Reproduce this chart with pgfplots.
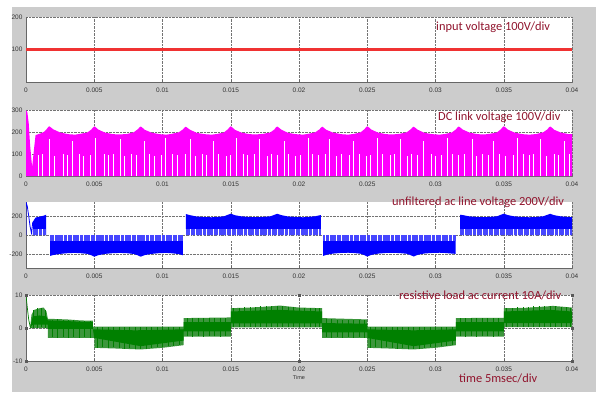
\documentclass[border=0pt]{standalone}
\usepackage{pgfplots}
\pgfplotsset{compat=1.18}
\usepackage{pgfplotstable}
\usepackage{fontspec}
\setmainfont{Liberation Sans}
\newfontfamily\calibri{Carlito}
\definecolor{bg}{RGB}{204,204,204}
\definecolor{lab}{RGB}{145,20,45}
\definecolor{mag}{RGB}{255,0,255}
\definecolor{bl}{RGB}{0,0,255}
\definecolor{bll}{RGB}{70,70,255}
\definecolor{gr}{RGB}{0,128,0}
\definecolor{grl}{RGB}{60,150,60}
\definecolor{redl}{RGB}{240,50,50}
\newcommand\tickf{\fontsize{6.5}{7}\selectfont}
\newcommand\labf{\calibri\fontsize{12.4}{14}\selectfont\color{lab}}

\pgfplotstableread{
x m b d
0.0009 95 -60 120
0.0012 100 -60 120
0.0017 170 -60 120
0.0021 90 -60 120
0.0027 100 -60 120
0.0030 95 -60 120
0.0034 160 -60 120
0.0039 100 -60 120
0.0042 90 -60 120
0.0047 95 -60 120
0.0051 175 -60 120
0.0057 100 -60 120
0.0060 95 -60 120
0.0064 100 -60 120
0.0069 170 -60 120
0.0072 90 -60 120
0.0077 100 -60 120
0.0081 95 -60 120
0.0087 160 -60 120
0.0090 100 -60 120
0.0094 90 -60 120
0.0099 95 -60 120
0.0102 175 -60 120
0.0107 100 -60 120
0.0111 95 -60 120
0.0117 100 -60 120
0.0120 170 -60 120
0.0124 90 -60 120
0.0129 100 -60 120
0.0132 95 -60 120
0.0137 160 -60 120
0.0141 100 -60 120
0.0147 90 -60 120
0.0150 95 -60 120
0.0154 175 -60 120
0.0159 100 -60 120
0.0162 95 -60 120
0.0167 100 -60 120
0.0171 170 -60 120
0.0177 90 -60 120
0.0180 100 -60 120
0.0184 95 -60 120
0.0189 160 -60 120
0.0192 100 -60 120
0.0197 90 -60 120
0.0201 95 -60 120
0.0207 175 -60 120
0.0210 100 -60 120
0.0214 95 -60 120
0.0219 100 -60 120
0.0222 170 -60 120
0.0227 90 -60 120
0.0231 100 -60 120
0.0237 95 -60 120
0.0240 160 -60 120
0.0244 100 -60 120
0.0249 90 -60 120
0.0252 95 -60 120
0.0257 175 -60 120
0.0261 100 -60 120
0.0267 95 -60 120
0.0270 100 -60 120
0.0274 170 -60 120
0.0279 90 -60 120
0.0282 100 -60 120
0.0287 95 -60 120
0.0291 160 -60 120
0.0297 100 -60 120
0.0300 90 -60 120
0.0304 95 -60 120
0.0309 175 -60 120
0.0312 100 -60 120
0.0317 95 -60 120
0.0321 100 -60 120
0.0327 170 -60 120
0.0330 90 -60 120
0.0334 100 -60 120
0.0339 95 -60 120
0.0342 160 -60 120
0.0347 100 -60 120
0.0351 90 -60 120
0.0357 95 -60 120
0.0360 175 -60 120
0.0364 100 -60 120
0.0369 95 -60 120
0.0372 100 -60 120
0.0377 170 -60 120
0.0381 90 -60 120
0.0387 100 -60 120
0.0390 95 -60 120
0.0394 160 -60 120
0.0398 100 -60 120
}\wpulses

\pgfplotstableread{
x lo d
0.0005 0 5.5
0.0008 0 6
0.0011 0.3 5.8
0.0014 0 5.5
0.0019 -2.8 5.2
0.0023 -3 5.6
0.0027 -2.6 5
0.0031 -3 5.4
0.0035 -2.7 5
0.0039 -2.9 5.1
0.0043 -2.8 5
0.0047 -3 5.1
0.0052 -6 6.3
0.0056 -5.8 6.1
0.0060 -6.1 6.4
0.0064 -5.9 6.2
0.0068 -6.2 6.5
0.0072 -6.3 6.6
0.0076 -6.1 6.4
0.0080 -6.5 6.8
0.0084 -6.4 6.7
0.0088 -6.3 6.6
0.0092 -6 6.3
0.0096 -5.9 6.2
0.0100 -5.8 6.1
0.0104 -5.6 5.9
0.0108 -5.4 5.7
0.0112 -5.2 5.5
0.0118 -2.5 5.4
0.0122 -2.6 5.6
0.0126 -2.4 5.3
0.0130 -2.6 5.5
0.0134 -2.3 5.2
0.0138 -2.5 5.4
0.0142 -2.6 5.6
0.0146 -2.4 5.4
0.0152 0.2 5.8
0.0156 0.3 5.9
0.0160 0.2 6.1
0.0164 0.4 6
0.0168 0.2 6.3
0.0172 0.3 6.3
0.0176 0.2 6.5
0.0180 0.3 6.4
0.0184 0.2 6.6
0.0188 0.4 6.3
0.0192 0.2 6.3
0.0196 0.3 6.1
0.0200 0.2 6
0.0204 0.3 5.9
0.0208 0.2 5.9
0.0212 0.4 5.6
0.0215 0.2 5.8
0.0220 -2.8 5.4
0.0224 -3 5.6
0.0228 -2.7 5.2
0.0232 -3 5.5
0.0236 -2.8 5.2
0.0240 -3 5.5
0.0244 -2.7 5.1
0.0248 -2.9 5.2
0.0252 -6 6.3
0.0256 -5.8 6.1
0.0260 -6.1 6.4
0.0264 -5.9 6.2
0.0268 -6.2 6.5
0.0272 -6.3 6.6
0.0276 -6.1 6.4
0.0280 -6.5 6.8
0.0284 -6.4 6.7
0.0288 -6.3 6.6
0.0292 -6 6.3
0.0296 -5.9 6.2
0.0300 -5.8 6.1
0.0304 -5.6 5.9
0.0308 -5.4 5.7
0.0312 -5.2 5.5
0.0318 -2.5 5.4
0.0322 -2.6 5.6
0.0326 -2.4 5.3
0.0330 -2.6 5.5
0.0334 -2.3 5.2
0.0338 -2.5 5.4
0.0342 -2.6 5.6
0.0346 -2.4 5.4
0.0352 0.2 5.8
0.0356 0.3 5.9
0.0360 0.2 6.1
0.0364 0.4 6
0.0368 0.2 6.3
0.0372 0.3 6.3
0.0376 0.2 6.5
0.0380 0.3 6.4
0.0384 0.2 6.6
0.0388 0.4 6.3
0.0392 0.2 6.3
0.0396 0.3 6.1
0.0399 0.2 6
}\gpulses

\pgfplotsset{
  panel/.style={
    scale only axis, width=546pt, xmin=0, xmax=0.04,
    anchor=south west,
    axis x line*=bottom, axis y line*=left,
    axis line style={-, draw=black!60, line width=0.6pt},
    axis background/.style={fill=white},
    scaled x ticks=false, scaled y ticks=false,
    xtick={0,0.005,0.01,0.015,0.02,0.025,0.03,0.035,0.04},
    xticklabels={0,0.005,0.01,0.015,0.02,0.025,0.03,0.035,0.04},
    grid=major,
    major grid style={densely dotted, black!55, line width=0.5pt},
    tick align=inside, major tick length=2pt,
    tick style={black!60, line width=0.5pt},
    ticklabel style={font=\tickf, text=black!80},
    xticklabel style={yshift=-2pt},
  }
}

\begin{document}
\begin{tikzpicture}
\useasboundingbox (0,0) rectangle (601pt,392pt);
\fill[bg] (12pt,0) rectangle (596pt,385pt);

% ---------- panel 1: input voltage
\begin{axis}[panel, at={(26pt,310pt)}, height=65pt,
  ymin=0, ymax=200, ymajorgrids=false,
  ytick={0,100}, yticklabels={{},100},
  extra y ticks={200}, extra y tick labels={200},
  extra y tick style={ymajorgrids=true, xmajorgrids=false}]
\addplot[draw=redl, line width=2.4pt] coordinates {(0,100) (0.04,100)};
\end{axis}

% ---------- panel 2: DC link voltage
\begin{axis}[panel, at={(26pt,216pt)}, height=66pt,
  ymin=0, ymax=300, ytick={0,100,200,300}, yticklabels={0,100,200,300}]
\addplot[fill=mag, draw=none] coordinates {
(0,0) (0,300) (0.0001,290) (0.0002,240) (0.0003,140) (0.00045,40) (0.0006,130)
(0.0007,186) (0.0010,192) (0.0013,200) (0.0015,212) (0.0016,220) (0.0017,226) (0.0018,222) (0.0020,212)
(0.0025,198) (0.0031,190) (0.0036,188) (0.0040,192) (0.0045,198) (0.0048,212) (0.0049,220)
(0.0050,226) (0.0051,222) (0.0053,211) (0.0058,197) (0.0064,190) (0.0069,189) (0.0074,191)
(0.0079,199) (0.0082,213) (0.0083,220) (0.0084,225) (0.0085,221) (0.0087,210) (0.0092,197) (0.0098,190)
(0.0103,188) (0.0107,192) (0.0112,199) (0.0115,212) (0.0116,219) (0.0117,224) (0.0118,220) (0.0120,211)
(0.0125,196) (0.0131,190) (0.0136,188) (0.0140,191) (0.0145,198) (0.0148,213) (0.0149,221)
(0.0150,226) (0.0151,222) (0.0153,210) (0.0158,197) (0.0164,190) (0.0169,189) (0.0174,192)
(0.0179,198) (0.0182,212) (0.0183,220) (0.0184,225) (0.0185,221) (0.0187,211) (0.0192,196) (0.0198,190)
(0.0203,188) (0.0207,192) (0.0212,199) (0.0215,212) (0.0216,219) (0.0217,224) (0.0218,220) (0.0220,210)
(0.0225,197) (0.0231,190) (0.0236,188) (0.0240,191) (0.0245,198) (0.0248,213) (0.0249,221)
(0.0250,226) (0.0251,222) (0.0253,211) (0.0258,197) (0.0264,190) (0.0269,189) (0.0274,192)
(0.0279,199) (0.0282,213) (0.0283,220) (0.0284,224) (0.0285,220) (0.0287,210) (0.0292,196) (0.0298,190)
(0.0303,188) (0.0307,191) (0.0312,198) (0.0315,212) (0.0316,220) (0.0317,225) (0.0318,221) (0.0320,211)
(0.0325,197) (0.0331,190) (0.0336,189) (0.0340,192) (0.0345,198) (0.0348,213) (0.0349,221)
(0.0350,226) (0.0351,222) (0.0353,211) (0.0358,197) (0.0364,190) (0.0369,188) (0.0374,191)
(0.0379,199) (0.0382,212) (0.0383,220) (0.0384,225) (0.0385,221) (0.0387,210) (0.0392,197) (0.0398,190)
(0.0400,190) (0.0400,0)} -- cycle;
\addplot[draw=white, line width=0.6pt, quiver={u=0,v=\thisrow{m}}] table[x=x,y expr=0] {\wpulses};
\end{axis}

% ---------- panel 3: unfiltered ac line voltage
\begin{axis}[panel, at={(26pt,124pt)}, height=66pt,
  ymin=-350, ymax=350, ytick={-200,0,200}, yticklabels={-200,0,200}]
\addplot[draw=bl, line width=0.8pt] coordinates {(0,0) (0,350) (0.0001,300) (0.0002,200) (0.0003,90) (0.0004,20) (0.0005,140)};
\addplot[fill=bl, draw=none] coordinates {(0.0005,140) (0.0007,185) (0.0010,195) (0.0013,205) (0.00147,215)} \closedcycle;
\addplot[fill=bl, draw=none] coordinates {
(0.00176,-222) (0.0020,-212) (0.0025,-200) (0.0031,-192) (0.0036,-190) (0.0040,-193)
(0.0045,-200) (0.0048,-215) (0.0050,-230) (0.0053,-214) (0.0058,-200) (0.0064,-192)
(0.0069,-190) (0.0074,-193) (0.0079,-201) (0.0082,-216) (0.0084,-230) (0.0087,-213)
(0.0092,-200) (0.0098,-192) (0.0103,-190) (0.0107,-194) (0.0112,-202) (0.0115,-215)} \closedcycle;
\addplot[fill=bl, draw=none] coordinates {
(0.01172,222) (0.0120,211) (0.0125,196) (0.0131,190) (0.0136,188) (0.0140,191)
(0.0145,198) (0.0148,215) (0.0150,226) (0.0153,210) (0.0158,197) (0.0164,190)
(0.0169,189) (0.0174,192) (0.0179,198) (0.0182,214) (0.0184,225) (0.0187,211)
(0.0192,196) (0.0198,190) (0.0203,188) (0.0207,192) (0.0212,199) (0.0216,212)} \closedcycle;
\addplot[fill=bl, draw=none] coordinates {
(0.02177,-222) (0.0220,-210) (0.0225,-197) (0.0231,-190) (0.0236,-188) (0.0240,-191)
(0.0245,-198) (0.0248,-214) (0.0250,-228) (0.0253,-211) (0.0258,-197) (0.0264,-190)
(0.0269,-189) (0.0274,-192) (0.0279,-199) (0.0282,-215) (0.0284,-228) (0.0287,-210)
(0.0292,-196) (0.0298,-190) (0.0303,-188) (0.0307,-191) (0.03148,-200)} \closedcycle;
\addplot[fill=bl, draw=none] coordinates {
(0.0318,215) (0.0320,211) (0.0325,197) (0.0331,190) (0.0336,189) (0.0340,192)
(0.0345,198) (0.0348,215) (0.0350,226) (0.0353,211) (0.0358,197) (0.0364,190)
(0.0369,188) (0.0374,191) (0.0379,199) (0.0382,214) (0.0384,225) (0.0387,210)
(0.0392,197) (0.0398,190) (0.0400,190)} \closedcycle;
\addplot[fill=bll, draw=none] coordinates {(0.0005,60) (0.00147,60)} \closedcycle;
\addplot[fill=bll, draw=none] coordinates {(0.00176,-60) (0.0115,-60)} \closedcycle;
\addplot[fill=bll, draw=none] coordinates {(0.01172,60) (0.0216,60)} \closedcycle;
\addplot[fill=bll, draw=none] coordinates {(0.02177,-60) (0.03148,-60)} \closedcycle;
\addplot[fill=bll, draw=none] coordinates {(0.0318,60) (0.0400,60)} \closedcycle;
\addplot[draw=white, line width=0.5pt, quiver={u=0,v=\thisrow{d}}] table[x=x,y=b] {\wpulses};
\end{axis}

% ---------- panel 4: resistive load ac current
\begin{axis}[panel, at={(26pt,31pt)}, height=66pt, clip mode=individual,
  ymin=-10, ymax=10, ytick={-10,0,10}, yticklabels={-10,0,10},
  xlabel={Time}, xlabel style={font=\fontsize{5.5}{6}\selectfont, text=black!80, yshift=2pt}]
\addplot[fill=grl, draw=none] coordinates {
(0.0003,0) (0.0004,4) (0.0006,5.5) (0.0010,6) (0.0013,6.2) (0.0015,5) (0.0016,2.8)
(0.0030,2.6) (0.0040,2.3) (0.0049,2.2) (0.0049,0.4) (0.01155,0.4) (0.01155,3)
(0.0150,3.2) (0.0150,6) (0.0165,6.2) (0.0180,6.6) (0.0186,6.8) (0.0200,6.2)
(0.0217,6) (0.0217,3) (0.0250,2.6) (0.0250,0.4) (0.0315,0.4) (0.0315,3)
(0.0350,3.1) (0.0350,6) (0.0365,6.1) (0.0380,6.5) (0.0386,6.7) (0.0400,6.2)
(0.0400,0.3) (0.0350,0.3) (0.0350,-2.6) (0.0315,-2.6) (0.0315,-5.2) (0.0300,-6.0)
(0.0284,-6.5) (0.0265,-6.2) (0.0250,-6) (0.0250,-3) (0.0217,-3) (0.0217,0.2)
(0.0150,0.2) (0.0150,-2.6) (0.01155,-2.6) (0.01155,-5.2) (0.0100,-6) (0.0084,-6.5)
(0.0065,-6.2) (0.0050,-6) (0.0050,-3) (0.0016,-3) (0.0016,0)} -- cycle;
\addplot[draw=gr, line width=0.6pt, quiver={u=0,v=\thisrow{d}}] table[x=x,y=lo] {\gpulses};
\addplot[fill=gr, draw=none] coordinates {
(0.0003,0.3) (0.0005,3.5) (0.0010,3.8) (0.0015,3.5) (0.0016,2.3) (0.0025,2.2)
(0.0040,1.9) (0.0049,1.8) (0.0049,-0.4) (0.0080,-0.7) (0.01155,-0.4) (0.01155,1.8)
(0.0150,1.8) (0.0150,5) (0.0184,5.5) (0.0217,5) (0.0217,1.5) (0.0250,1.3)
(0.0250,-0.4) (0.0284,-0.7) (0.0315,-0.4) (0.0315,1.8) (0.0350,1.8) (0.0350,5)
(0.0384,5.5) (0.0400,5) (0.0400,1.5) (0.0350,1.5) (0.0350,-1) (0.0315,-1)
(0.0315,-3.8) (0.0284,-5.5) (0.0250,-3) (0.0250,-1.3) (0.0217,-1.3) (0.0217,1.4)
(0.0150,1.4) (0.0150,-1) (0.01155,-1) (0.01155,-3.8) (0.0084,-5.5) (0.0050,-3)
(0.0049,-0.3) (0.0016,-0.3) (0.0016,1) (0.0005,1)} -- cycle;
\addplot[draw=gr, line width=0.7pt] coordinates {(0,10) (0.0001,6) (0.0002,2.5) (0.0003,0.5) (0.0004,0)};
\addplot[only marks, mark=square*, mark size=1.3pt, draw=black!65, fill=black!65] coordinates {
(0,10) (0,0) (0,-10) (0.02,10) (0.02,-10) (0.04,10) (0.04,0) (0.04,-10)};
\end{axis}

% ---------- annotations
\node[anchor=west, inner sep=0] at (436pt,365pt) {\labf input voltage 100V/div};
\node[anchor=west, inner sep=0] at (438pt,274.5pt) {\labf DC link voltage 100V/div};
\node[anchor=west, inner sep=0] at (392pt,190pt) {\labf unfiltered ac line voltage 200V/div};
\node[anchor=west, inner sep=0] at (399pt,97pt) {\labf resistive load ac current 10A/div};
\node[anchor=base west, inner sep=0] at (459pt,10pt) {\labf time 5msec/div};
\end{tikzpicture}
\end{document}
